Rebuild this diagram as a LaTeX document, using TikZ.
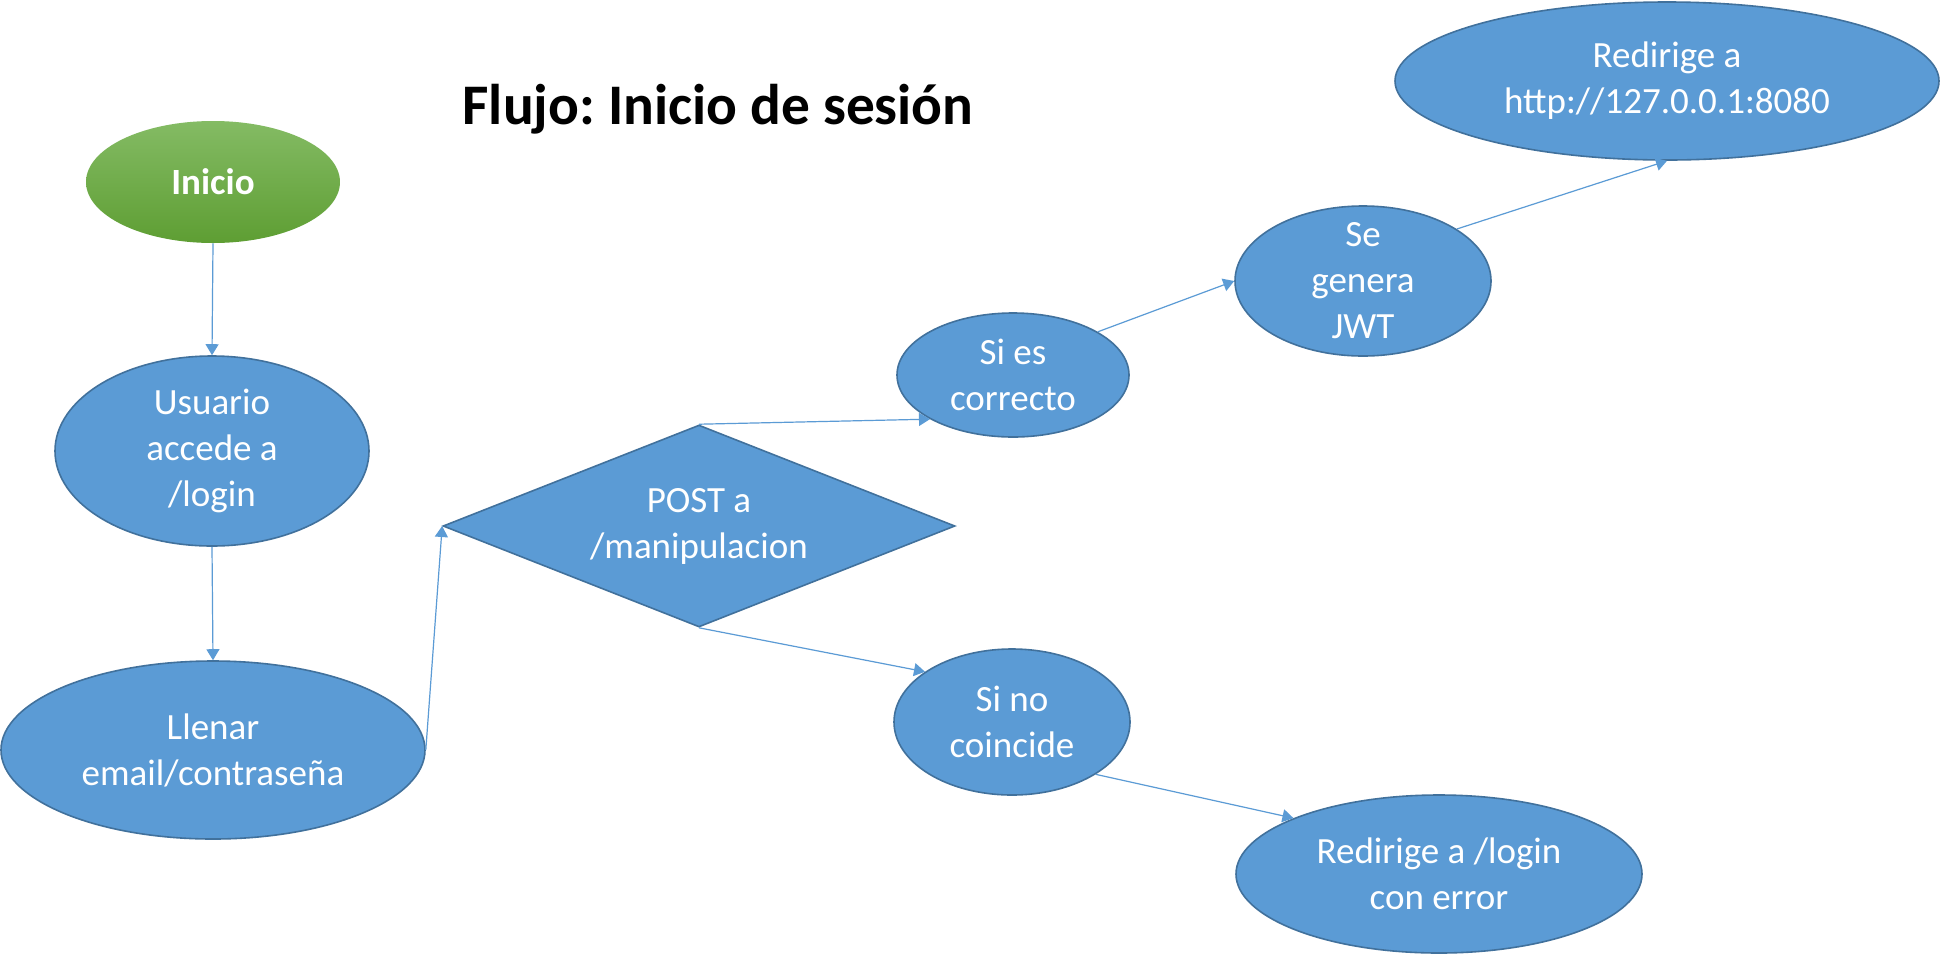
\documentclass[tikz,border=0pt]{standalone}
\usepackage{fontspec}
\setmainfont{Carlito}
\frenchspacing
\usetikzlibrary{shapes.geometric,arrows.meta}
\definecolor{boxblue}{HTML}{5B9BD5}
\definecolor{edgeblue}{HTML}{41719C}
\definecolor{greentop}{HTML}{84BB64}
\definecolor{greenbot}{HTML}{5E9E33}
\tikzset{
  stepnode/.style={ellipse, fill=boxblue, draw=edgeblue, line width=0.8pt, inner sep=-15pt,
    text=white, align=center, font=\fontsize{18.5}{23}\selectfont},
  startnode/.style={ellipse, top color=greentop, bottom color=greenbot, draw=none, inner sep=-15pt,
    text=white, align=center, font=\bfseries\fontsize{18.5}{23}\selectfont},
  decnode/.style={diamond, fill=boxblue, draw=edgeblue, line width=0.8pt, inner sep=0pt, shape aspect=2.5,
    text=white, align=center, font=\fontsize{18.5}{23}\selectfont},
  flow/.style={draw=boxblue, line width=0.6pt, -{Triangle[length=5.5pt,width=6.5pt]}},
}
\begin{document}
\begin{tikzpicture}[x=0.5pt,y=-0.5pt]
\useasboundingbox[fill=white] (0,0) rectangle (1942,954);
\node[anchor=base, font=\bfseries\fontsize{28.7}{34}\selectfont] (title) at (718,124) {Flujo: Inicio de sesión};
\node[startnode, minimum width=127pt, minimum height=61pt] (inicio) at (213,182) {Inicio};
\node[stepnode, minimum width=157pt, minimum height=95pt] (usuario) at (212,451) {Usuario\\accede a\\/login};
\node[stepnode, minimum width=212pt, minimum height=89pt] (llenar) at (213,750) {Llenar\\email/contraseña};
\node[decnode, minimum width=256pt, minimum height=101pt] (post) at (699,526) {POST a\\/manipulacion};
\node[stepnode, minimum width=116pt, minimum height=62pt] (sicorr) at (1013,375) {Si es\\correcto};
\node[stepnode, minimum width=128pt, minimum height=75pt] (jwt) at (1363,281) {Se\\genera\\JWT};
\node[stepnode, minimum width=272pt, minimum height=79pt] (redir) at (1667,81) {Redirige a\\http://127.0.0.1:8080};
\node[stepnode, minimum width=118pt, minimum height=73pt] (sino) at (1012,722) {Si no\\coincide};
\node[stepnode, minimum width=203pt, minimum height=79pt] (redlog) at (1439,874) {Redirige a /login\\con error};
\draw[flow] (inicio.south) -- (usuario.north);
\draw[flow] (usuario.south) -- (llenar.north);
\draw[flow] (llenar.east) -- (post.west);
\draw[flow] (post.north) -- (sicorr.208);
\draw[flow] (post.south) -- (sino.150);
\draw[flow] (sicorr.27) -- (jwt.west);
\draw[flow] (jwt.29) -- (redir.south);
\draw[flow] (sino.-32) -- (redlog.159);
\end{tikzpicture}
\end{document}
